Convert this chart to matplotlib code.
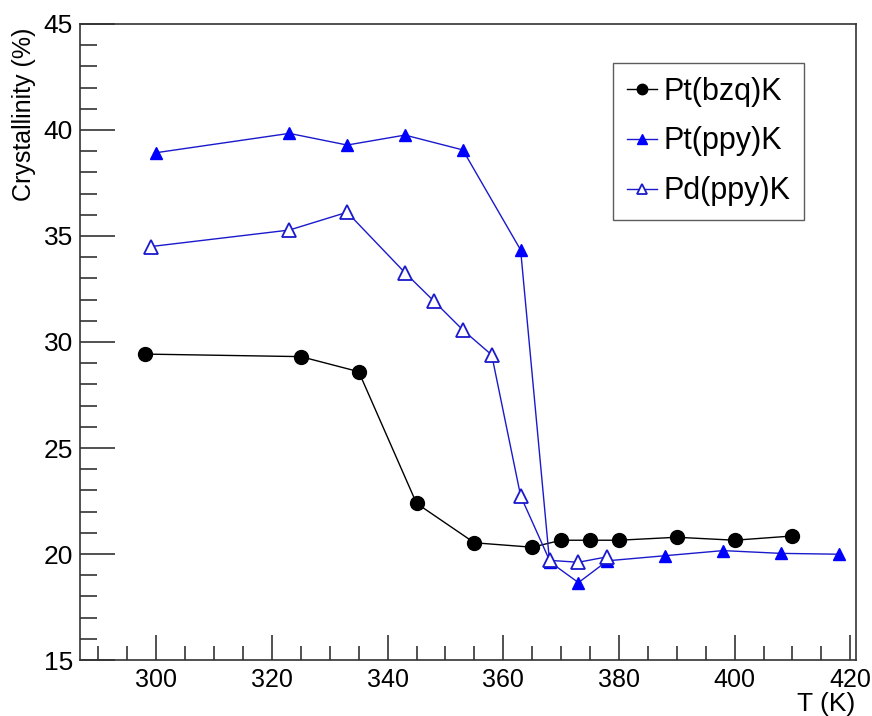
import matplotlib
matplotlib.use('Agg')
import matplotlib.pyplot as plt
from matplotlib.ticker import MultipleLocator

plt.rcParams['font.family'] = ['Liberation Sans', 'DejaVu Sans']

# Pt(bzq)K
t_bzq = [298, 325, 335, 345, 355, 365, 370, 375, 380, 390, 400, 410]
c_bzq = [29.43, 29.31, 28.6, 22.39, 20.53, 20.32, 20.65, 20.65, 20.65, 20.79, 20.65, 20.85]

# Pt(ppy)K
t_ptppy = [300, 323, 333, 343, 353, 363, 368, 373, 378, 388, 398, 408, 418]
c_ptppy = [38.93, 39.84, 39.29, 39.76, 39.06, 34.34, 19.64, 18.65, 19.68, 19.92, 20.16, 20.03, 19.99]

# Pd(ppy)K
t_pdppy = [299, 323, 333, 343, 348, 353, 358, 363, 368, 373, 378]
c_pdppy = [34.5, 35.28, 36.12, 33.27, 31.93, 30.57, 29.39, 22.74, 19.7, 19.61, 19.87]

fig = plt.figure(figsize=(8.72, 7.16), dpi=100)
ax = fig.add_axes([0.0917, 0.0782, 0.89, 0.8883])

ax.plot(t_bzq, c_bzq, color='black', lw=1.0, marker='o', ms=10,
        label='Pt(bzq)K')
ax.plot(t_ptppy, c_ptppy, color='#1a1acc', lw=1.0, marker='^', ms=9,
        mfc='blue', mec='blue', label='Pt(ppy)K')
ax.plot(t_pdppy, c_pdppy, color='#1a1acc', lw=1.0, marker='^', ms=10,
        mfc='white', mec='#1a1acc', mew=1.3, label='Pd(ppy)K')

ax.set_xlim(286.8, 421.0)
ax.set_ylim(15, 45)
ax.xaxis.set_major_locator(MultipleLocator(20))
ax.xaxis.set_minor_locator(MultipleLocator(5))
ax.yaxis.set_major_locator(MultipleLocator(5))
ax.yaxis.set_minor_locator(MultipleLocator(1))
ax.tick_params(which='both', direction='in', top=False, right=False,
               labelsize=19, color='#333333')
ax.tick_params(axis='x', labelsize=18)
ax.tick_params(axis='y', which='major', length=25, width=1.2, pad=5)
ax.tick_params(axis='y', which='minor', length=12, width=1.2)
ax.tick_params(axis='x', which='major', length=18, width=1.2, pad=6)
ax.tick_params(axis='x', which='minor', length=10, width=1.2)
for s in ax.spines.values():
    s.set_color('#333333')
    s.set_linewidth(1.2)

# axis titles sit at the far ends of the axes
fig.text(24 / 872, 1 - 28 / 716, 'Crystallinity (%)', rotation=90,
         ha='center', va='top', fontsize=18)
fig.text(855 / 872, 1 - 711 / 716, 'T (K)', ha='right', va='baseline',
         fontsize=19)

leg = ax.legend(loc='upper left', bbox_to_anchor=(0.687, 0.939), fontsize=22,
                frameon=True, fancybox=False, handlelength=1.0,
                handletextpad=0.2, borderpad=0.45, labelspacing=0.65,
                borderaxespad=0, markerscale=0.75)
leg.get_frame().set_edgecolor('#333333')
leg.get_frame().set_linewidth(1.0)

fig.savefig('out.png', dpi=100)
